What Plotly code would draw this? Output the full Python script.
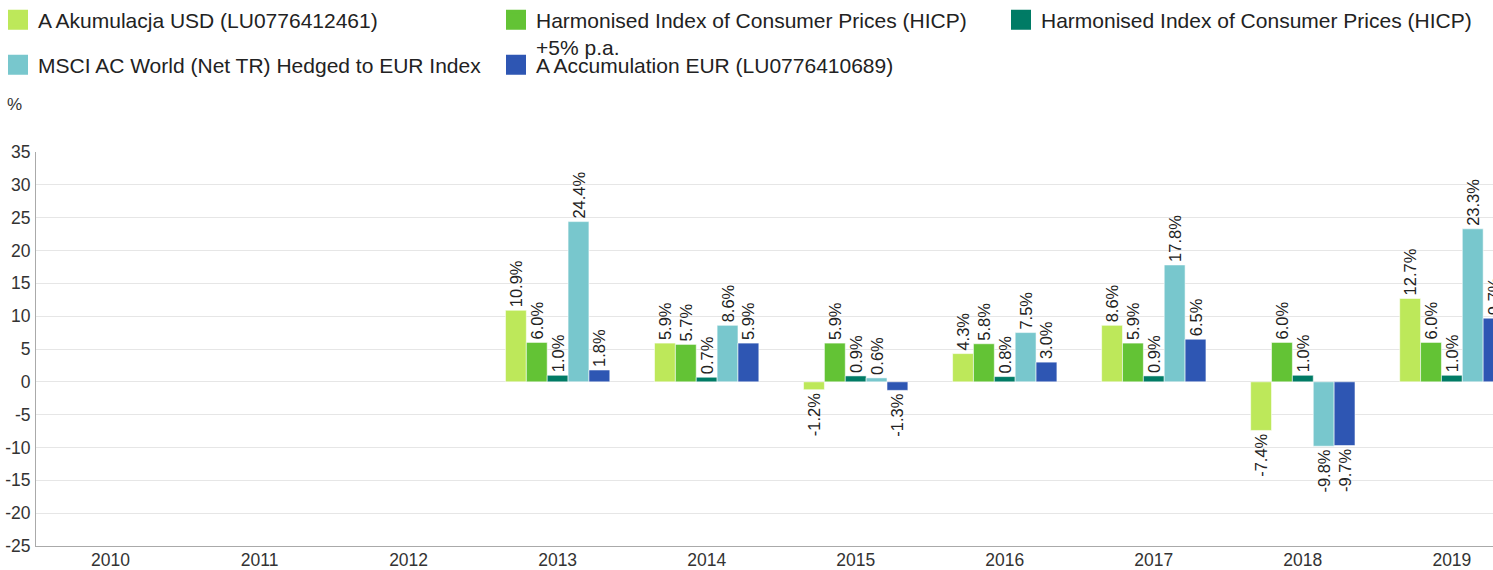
import plotly.graph_objects as go

years = ["2010", "2011", "2012", "2013", "2014", "2015", "2016", "2017", "2018", "2019"]
series_names = [
    "A Akumulacja USD (LU0776412461)",
    "Harmonised Index of Consumer Prices (HICP)<br>+5% p.a.",
    "Harmonised Index of Consumer Prices (HICP)",
    "MSCI AC World (Net TR) Hedged to EUR Index",
    "A Accumulation EUR (LU0776410689)",
]
colors = ["#BDE85A", "#63C335", "#007B65", "#78C7CD", "#2E56B3"]

a_akumulacja_usd = [None, None, None, 10.9, 5.9, -1.2, 4.3, 8.6, -7.4, 12.7]
hicp_plus5 = [None, None, None, 6.0, 5.7, 5.9, 5.8, 5.9, 6.0, 6.0]
hicp = [None, None, None, 1.0, 0.7, 0.9, 0.8, 0.9, 1.0, 1.0]
msci_acwi_eur = [None, None, None, 24.4, 8.6, 0.6, 7.5, 17.8, -9.8, 23.3]
a_accumulation_eur = [None, None, None, 1.8, 5.9, -1.3, 3.0, 6.5, -9.7, 9.7]

series_values = [a_akumulacja_usd, hicp_plus5, hicp, msci_acwi_eur, a_accumulation_eur]

y_ticks = [-25, -20, -15, -10, -5, 0, 5, 10, 15, 20, 25, 30, 35]

FONT = "Liberation Sans, Arial, sans-serif"

W, H = 1493, 570
M_L, M_R, M_T, M_B = 36, 0, 152, 24
plot_w = W - M_L - M_R
plot_h = H - M_T - M_B

fig = go.Figure()
for name, vals, col in zip(series_names, series_values, colors):
    fig.add_trace(go.Bar(
        x=years, y=vals, name=name, showlegend=False,
        marker=dict(color=col, line=dict(color="rgba(255,255,255,0.55)", width=1)),
        text=["" if v is None else f"{v:.1f}%" for v in vals],
        textposition="outside", textangle=-90, constraintext="none",
        textfont=dict(family=FONT, size=16.5, color="#222222"),
        hoverinfo="skip",
    ))

# legend entries: row 1 columns 1-2 in "legend", row 1 column 3 in "legend3",
# row 2 in "legend2"
legend_ids = ["legend", "legend", "legend3", "legend2", "legend2"]
for i, (name, col) in enumerate(zip(series_names, colors)):
    fig.add_trace(go.Scatter(
        x=[None], y=[None], mode="markers", name=name,
        legend=legend_ids[i], legendgroup=f"g{i}",
        marker=dict(symbol="square", size=16, color=col, line=dict(color=col, width=4)),
        hoverinfo="skip",
    ))

legend_common = dict(
    orientation="h", xanchor="left", yanchor="top", valign="top",
    entrywidth=453, entrywidthmode="pixels",
    font=dict(family=FONT, size=21, color="#222222"),
    traceorder="normal", bgcolor="rgba(0,0,0,0)",
)
x_col1 = -(M_L + 2) / plot_w
x_col3 = (1001 - M_L) / plot_w

fig.update_layout(
    width=W, height=H,
    margin=dict(l=M_L, r=M_R, t=M_T, b=M_B, autoexpand=False),
    paper_bgcolor="white", plot_bgcolor="white",
    barmode="group", bargap=0.3, bargroupgap=0,
    font=dict(family=FONT, color="#333333"),
    legend=dict(x=x_col1, y=1 + (M_T + 0.5) / plot_h, **legend_common),
    legend3=dict(x=x_col3, y=1 + (M_T + 0.5) / plot_h, **legend_common),
    legend2=dict(x=x_col1, y=1 + (M_T - 44.5) / plot_h, **legend_common),
    xaxis=dict(
        type="category", categoryorder="array", categoryarray=years,
        range=[-0.5, 9.276], showgrid=False, zeroline=False,
        showline=True, linecolor="#AAAAAA", linewidth=1,
        ticks="", ticklabelstandoff=-2,
        tickfont=dict(family=FONT, size=17.5, color="#333333"),
        fixedrange=True,
    ),
    yaxis=dict(
        range=[-25, 35], tickvals=y_ticks, ticktext=[str(v) for v in y_ticks],
        showgrid=True, gridcolor="#E6E6E6", gridwidth=1, zeroline=False,
        showline=True, linecolor="#AAAAAA", linewidth=1,
        ticks="", ticklabelstandoff=1,
        tickfont=dict(family=FONT, size=17.5, color="#333333"),
        fixedrange=True,
    ),
    annotations=[dict(
        text="%", xref="paper", yref="paper",
        x=-(M_L - 14) / plot_w, y=1 + (M_T - 105) / plot_h,
        xanchor="center", yanchor="middle", showarrow=False,
        font=dict(family=FONT, size=17, color="#333333"),
    )],
)

fig.write_html(
    "out.html",
    config={"displayModeBar": False},
    post_script="document.body.style.margin='0px';document.body.style.overflow='hidden';",
)
